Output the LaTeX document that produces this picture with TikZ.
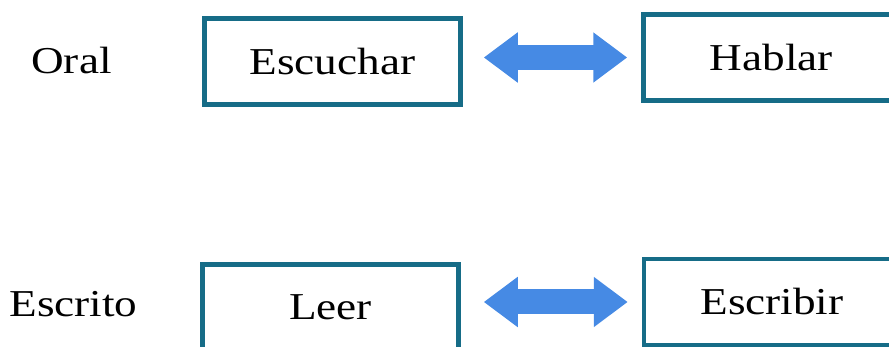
\documentclass[tikz,border=0pt]{standalone}
\usepackage{fontspec}
\setmainfont{Liberation Serif}[FakeStretch=1.19]
\usetikzlibrary{arrows.meta,positioning}
\definecolor{boxteal}{RGB}{22,108,135}
\definecolor{arrowblue}{RGB}{70,138,228}

\begin{document}
\begin{tikzpicture}[x=1pt,y=-1pt,
  skill/.style={draw=boxteal,line width=4.5pt,minimum width=256pt,minimum height=86pt,
    inner sep=0pt,font=\fontsize{38}{40}\selectfont},
  mode/.style={font=\fontsize{38}{40}\selectfont},
  dblarrow/.style={arrowblue,line width=25pt,
    {Triangle[length=34pt,width=48pt]}-{Triangle[length=34pt,width=48pt]}}]
  \useasboundingbox (0,0) rectangle (889,347);

  \node (Escuchar) [skill] at (332.5,61.5) {Escuchar};
  \node (Hablar) [skill] at (771.5,57.5) {Hablar};
  \node (Leer) [skill] at (330.5,307.5) {Leer};
  \node (Escribir) [skill] at (772,302) {Escribir};

  \node (Oral) [mode] at (71.5,61) {Oral};
  \node (Escrito) [mode] at (73.5,304) {Escrito};

  \draw[dblarrow,shorten <=21pt,shorten >=14pt] (Escuchar.east |- Hablar) -- (Hablar.west);
  \draw[dblarrow,shorten <=23pt,shorten >=14pt] (Leer.east |- Escribir) -- (Escribir.west);
\end{tikzpicture}
\end{document}
